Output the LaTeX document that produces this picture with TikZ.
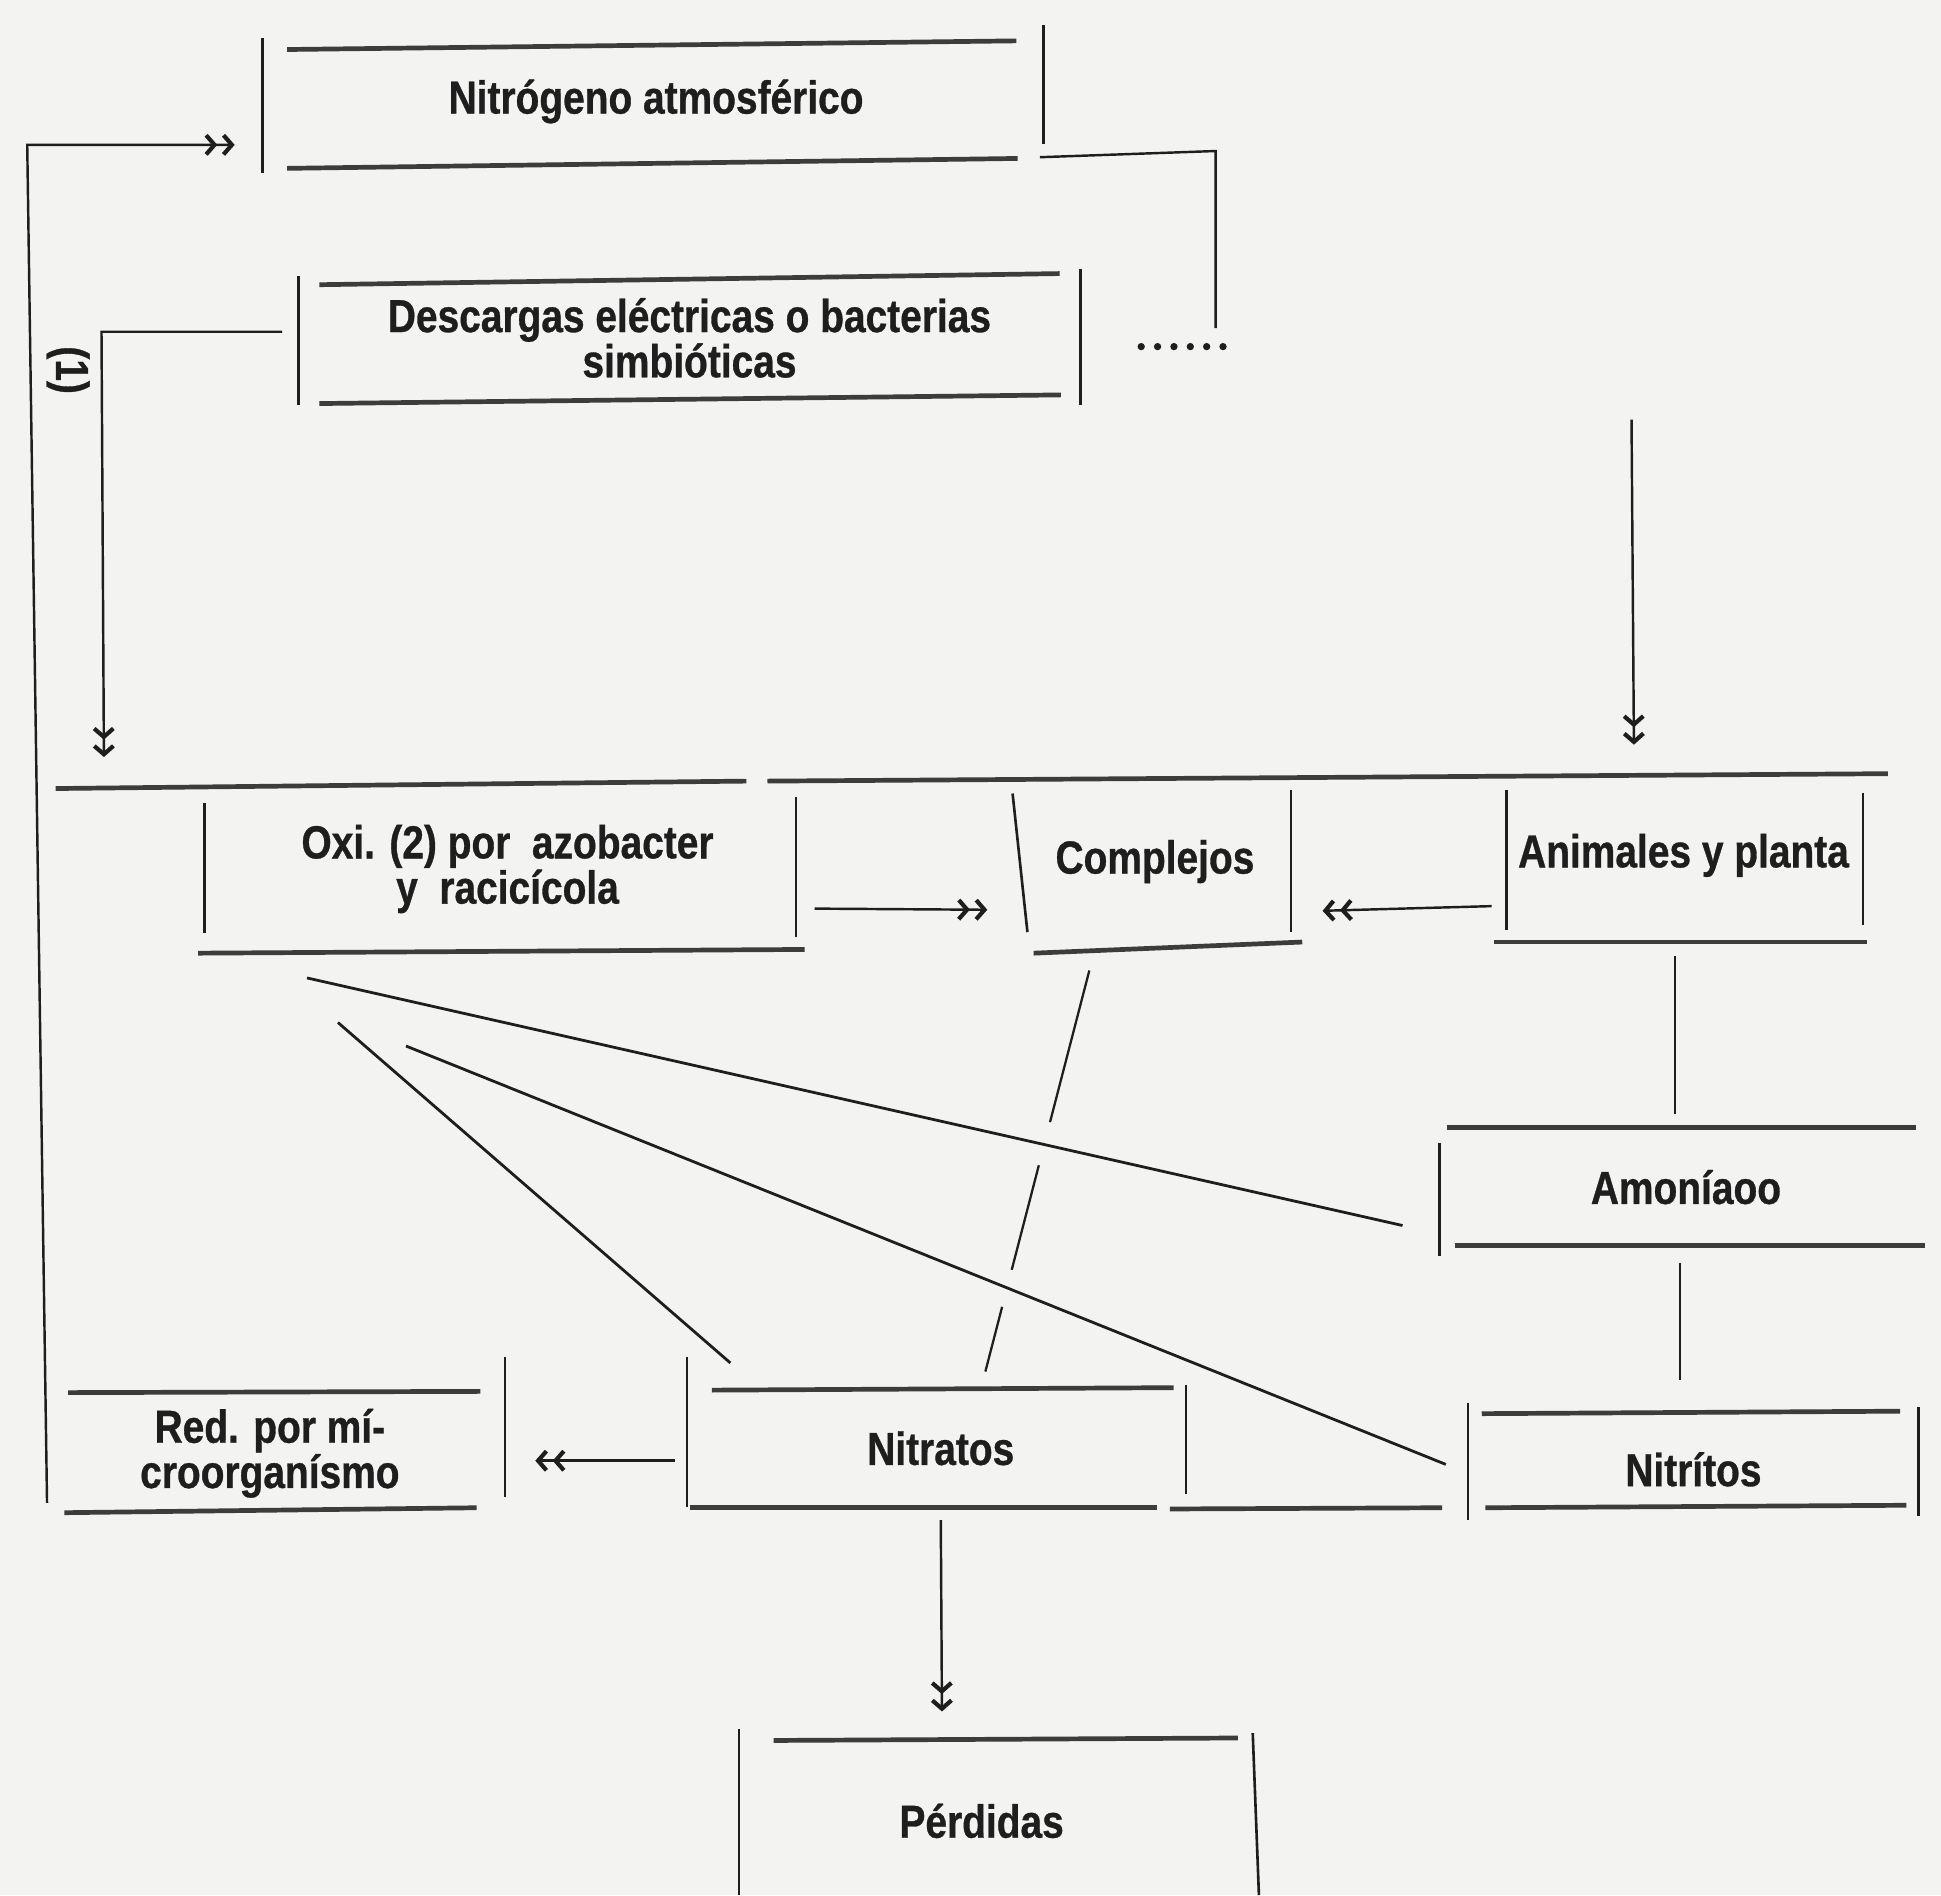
\documentclass[tikz,border=0pt]{standalone}
\usepackage{fontspec}
\newfontfamily\cond{Liberation Sans}[FakeStretch=0.84, BoldFeatures={FakeBold=0.7}]
\usetikzlibrary{arrows.meta}
\definecolor{paper}{RGB}{243,243,241}
\definecolor{ink}{RGB}{30,30,30}
\definecolor{rule}{RGB}{60,60,60}
\begin{document}
\begin{tikzpicture}[x=0.0125cm,y=-0.0125cm,
  lbl/.style={font=\cond\bfseries\fontsize{13.3}{13}\selectfont, text=ink, align=center, inner sep=0pt},
  hl/.style={draw=rule, line width=1.35pt},
  vl/.style={draw=ink, line width=0.75pt},
  con/.style={draw=ink, line width=0.7pt},
  arr/.style={con, -{Straight Barb[length=2.4pt,width=5.5pt,line width=1.2pt,sep=1.2pt] Straight Barb[length=2.4pt,width=5.5pt,line width=1.2pt,sep=3pt]}},
  diag/.style={draw=ink, line width=0.8pt}
  ]
\fill[paper] (0,0) rectangle (1568,1531);
\useasboundingbox (0,0) rectangle (1568,1531);

% ---------- text nodes ----------
\node[lbl] (nit) at (530,82) {Nitrógeno atmosférico};
\node[lbl] (des) at (557,273) {Descargas eléctricas o bacterias\\simbióticas};
\node[lbl] (oxi) at (410,702) {Oxi. (2) por~ azobacter\\y~ racicícola};
\node[lbl] (com) at (933,696) {Complejos};
\node[lbl] (ani) at (1360,691) {Animales y planta};
\node[lbl] (amo) at (1362,959) {Amoníaoo};
\node[lbl] (nta) at (760,1170) {Nitratos};
\node[lbl] (nti) at (1368,1187) {Nitrítos};
\node[lbl] (red) at (218,1174) {Red. por mí-\\croorganísmo};
\node[lbl] (per) at (793,1471) {Pérdidas};
\node[lbl, rotate=-90] (one) at (55,299) {(1)};

% ---------- box frames ----------
% Nitrogeno
\draw[vl] (212,31) -- (212,140);
\draw[hl] (232,40) -- (821,33);
\draw[vl] (843,20) -- (843,116);
\draw[hl] (232,136) -- (822,128);
% Descargas
\draw[vl] (241,223) -- (241,327);
\draw[hl] (258,230) -- (856,221);
\draw[vl] (873,217) -- (873,327);
\draw[hl] (258,326) -- (857,319);
% common top line of the middle row
\draw[hl] (45,637) -- (603,631);
\draw[hl] (620,631) -- (1525,625);
% Oxi
\draw[vl] (165,649) -- (165,754);
\draw[vl] (643,644) -- (643,757);
\draw[hl] (160,770) -- (650,767);
% Complejos
\draw[vl] (818,641) -- (830,753);
\draw[vl] (1043,638) -- (1043,753);
\draw[hl] (835,770) -- (1052,761);
% Animales
\draw[vl] (1217,638) -- (1217,751);
\draw[vl] (1505,641) -- (1505,747);
\draw[hl] (1207,761) -- (1508,761);
% Amoniaco
\draw[hl] (1169,911) -- (1548,911);
\draw[vl] (1163,923) -- (1163,1015);
\draw[hl] (1175,1006) -- (1555,1006);
% Nitritos
\draw[vl] (1186,1133) -- (1186,1228);
\draw[hl] (1197,1142) -- (1535,1140);
\draw[vl] (1550,1137) -- (1550,1225);
\draw[hl] (1200,1218) -- (1540,1216);
% Nitratos
\draw[vl] (555,1096) -- (555,1217);
\draw[hl] (575,1123) -- (948,1121);
\draw[vl] (958,1119) -- (958,1207);
\draw[hl] (557,1218) -- (935,1218);
% Red
\draw[hl] (55,1125) -- (388,1124);
\draw[vl] (408,1096) -- (408,1209);
\draw[hl] (52,1222) -- (385,1218);
% Perdidas
\draw[vl] (597,1397) -- (597,1531);
\draw[hl] (625,1406) -- (1000,1404);
\draw[vl] (1012,1400) -- (1017,1531);

% ---------- connector end points ----------
\coordinate (redSW) at (38,1214);
\coordinate (retTop) at (22,117);
\coordinate (nitIn) at (198,117);
\coordinate (nitOut) at (840,127);
\coordinate (rCorner) at (982,122);
\coordinate (rEnd) at (982,265);
\coordinate (dotA) at (988,280);
\coordinate (dotB) at (921,280);
\coordinate (desOut) at (228,268);
\coordinate (lCorner) at (82,268);
\coordinate (oxiIn) at (84,620);
\coordinate (aniTop) at (1318,339);
\coordinate (aniIn) at (1320,610);
\coordinate (oxiOut) at (658,734);
\coordinate (comInL) at (806,735);
\coordinate (aniOut) at (1205,732);
\coordinate (comInR) at (1060,736);
\coordinate (aniDown) at (1353,772);
\coordinate (amoUp) at (1353,900);
\coordinate (amoDown) at (1357,1020);
\coordinate (ntiUp) at (1357,1115);
\coordinate (ntaR) at (945,1219);
\coordinate (ntiL) at (1165,1218);
\coordinate (ntaL) at (545,1180);
\coordinate (redIn) at (424,1180);
\coordinate (ntaDown) at (760,1228);
\coordinate (perIn) at (761,1391);
\coordinate (oxiD1) at (248,790);
\coordinate (amoD) at (1133,990);
\coordinate (oxiD2) at (273,826);
\coordinate (ntaD1) at (590,1101);
\coordinate (oxiD3) at (328,845);
\coordinate (ntiD) at (1168,1183);
\coordinate (comD) at (880,784);
\coordinate (ntaD2) at (796,1108);

% ---------- connectors ----------
\draw[arr] (redSW) -- (retTop) -- (nitIn);
\draw[con] (nitOut) -- (rCorner) -- (rEnd);
\draw[ink, line width=2.1pt, line cap=round, dash pattern=on 0pt off 4.7pt] (dotA) -- (dotB);
\draw[arr] (desOut) -- (lCorner) -- (oxiIn);
\draw[arr] (aniTop) -- (aniIn);
\draw[arr] (oxiOut) -- (comInL);
\draw[arr] (aniOut) -- (comInR);
\draw[con] (aniDown) -- (amoUp);
\draw[con] (amoDown) -- (ntiUp);
\draw[hl] (ntaR) -- (ntiL);
\draw[arr] (ntaL) -- (redIn);
\draw[arr] (ntaDown) -- (perIn);
\draw[diag] (oxiD1) -- (amoD);
\draw[diag] (oxiD2) -- (ntaD1);
\draw[diag] (oxiD3) -- (ntiD);
\draw[diag, line width=0.65pt, dash pattern=on 45pt off 12.8pt on 31pt off 11pt on 30pt] (comD) -- (ntaD2);
\end{tikzpicture}
\end{document}
